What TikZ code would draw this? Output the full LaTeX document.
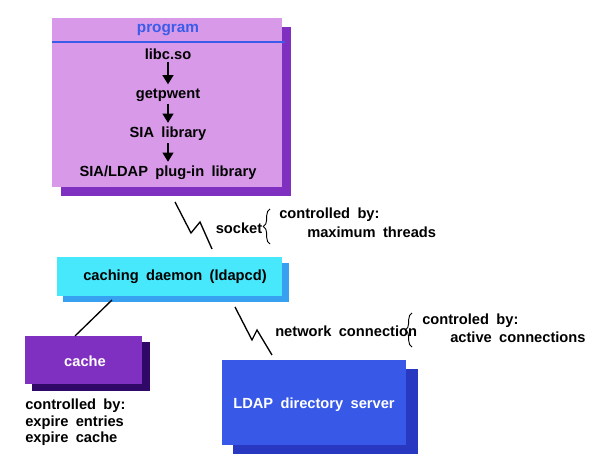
\documentclass[tikz,border=0pt]{standalone}
\usepackage{fontspec}
\setmainfont{Liberation Sans}[WordSpace=1.8]
\usetikzlibrary{arrows.meta,decorations.pathreplacing}
\definecolor{progfront}{HTML}{D89AE8}
\definecolor{progshadow}{HTML}{8030C0}
\definecolor{progblue}{HTML}{3A5CE8}
\definecolor{daefront}{HTML}{48E8FC}
\definecolor{daeshadow}{HTML}{38A0F0}
\definecolor{cachefront}{HTML}{8030C0}
\definecolor{cacheshadow}{HTML}{300868}
\definecolor{ldapfront}{HTML}{3858E8}
\definecolor{ldapshadow}{HTML}{2838C0}
\tikzset{
  lbl/.style={font=\fontsize{11}{13}\selectfont\bfseries, inner sep=0pt},
  wlbl/.style={lbl, text=white},
  flow/.style={line width=2.2pt, -{Triangle[width=8pt,length=7pt]}, shorten >=1pt},
  zig/.style={line width=1pt, black},
  link/.style={line width=1pt, black},
  brc/.style={decorate, decoration={brace, amplitude=5pt}, line width=0.7pt},
}
\begin{document}
\begin{tikzpicture}[x=0.75pt,y=-0.75pt]
\useasboundingbox (0,0) rectangle (596,470);
% program box
\fill[progshadow] (61,27) rectangle (291,196);
\fill[progfront] (52,18) rectangle (282,187);
\node[lbl, text=progblue, font=\fontsize{11.5}{13}\selectfont\bfseries] (prog) at (168,30) {program};
\draw[progblue, line width=0.8pt] (52,42) -- (285,42);
\node[lbl] (libc) at (168,54) {libc.so};
\node[lbl] (getp) at (168,95) {getpwent};
\node[lbl] (sia) at (168,134) {SIA library};
\node[lbl] (plug) at (168,173) {SIA/LDAP plug-in library};
\draw[flow] ([yshift=-1.5pt]libc.south) -- ([yshift=2pt]getp.north);
\draw[flow] ([yshift=-1.5pt]getp.south) -- ([yshift=2pt]sia.north);
\draw[flow] ([yshift=-1.5pt]sia.south) -- ([yshift=2pt]plug.north);
% daemon
\fill[daeshadow] (63,263) rectangle (289,302);
\fill[daefront] (57,257) rectangle (282,296);
\node[lbl] (dae) at (175,277) {caching daemon (ldapcd)};
% cache
\fill[cacheshadow] (32,342) rectangle (150,391);
\fill[cachefront] (25,336) rectangle (142,384);
\node[wlbl] (cache) at (85,361) {cache};
% ldap server
\fill[ldapshadow] (233,369) rectangle (418,454);
\fill[ldapfront] (222,360) rectangle (406,445);
\node[wlbl] (ldap) at (314,405) {LDAP directory server};
% socket zigzag
\coordinate (s0) at (175,202);
\coordinate (s3) at (212,249);
\draw[zig] (s0) -- (191,233) -- (200,222) -- (s3);
\node[lbl, anchor=center] (sock) at (239,228) {socket};
\draw[brc] (270,244) -- (270,209);
\node[lbl, anchor=west] (cb1) at (279,215) {controlled by:};
\node[lbl, anchor=west] (mt) at (307,232) {maximum threads};
% daemon to cache
\coordinate (d1) at (112,300);
\coordinate (c1) at (75,336);
\draw[link] (d1) -- (c1);
% network zigzag
\coordinate (n0) at (235,307);
\coordinate (n3) at (272,355);
\draw[zig] (n0) -- (252,340) -- (257,330) -- (n3);
\node[lbl, anchor=west] (net) at (275,331) {network connection};
\draw[brc] (412,347) -- (412,313);
\node[lbl, anchor=west] (cb2) at (422,321) {controled by:};
\node[lbl, anchor=west] (ac) at (450,337) {active connections};
% cache notes
\node[lbl, anchor=west] (cn1) at (25,406) {controlled by:};
\node[lbl, anchor=west] (cn2) at (25,423) {expire entries};
\node[lbl, anchor=west] (cn3) at (25,439) {expire cache};
\end{tikzpicture}
\end{document}
